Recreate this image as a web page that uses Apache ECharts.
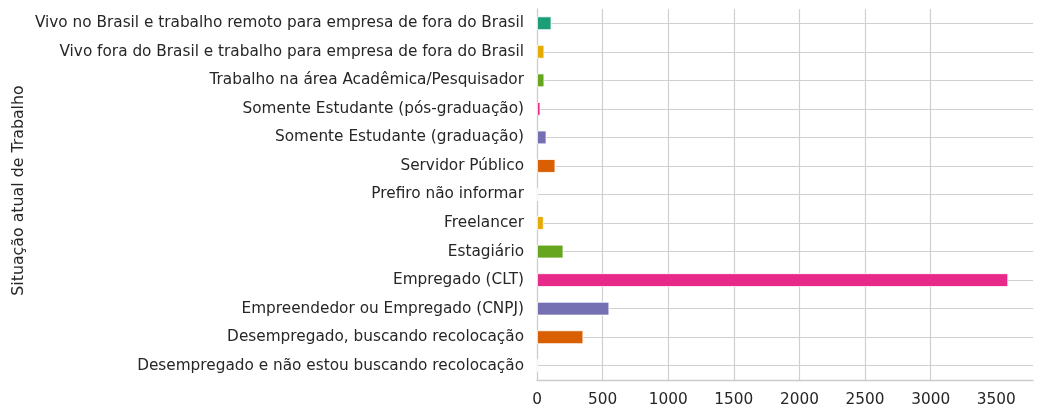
<!DOCTYPE html>
<html>
<head>
<meta charset="utf-8">
<script src="https://cdn.jsdelivr.net/npm/echarts@6/dist/echarts.min.js"></script>
<style>html,body{margin:0;padding:0;background:#fff}#c{width:1043px;height:417px}</style>
</head>
<body>
<div id="c"></div>
<script>
const categories = [
  "Desempregado e não estou buscando recolocação",
  "Desempregado, buscando recolocação",
  "Empreendedor ou Empregado (CNPJ)",
  "Empregado (CLT)",
  "Estagiário",
  "Freelancer",
  "Prefiro não informar",
  "Servidor Público",
  "Somente Estudante (graduação)",
  "Somente Estudante (pós-graduação)",
  "Trabalho na área Acadêmica/Pesquisador",
  "Vivo fora do Brasil e trabalho para empresa de fora do Brasil",
  "Vivo no Brasil e trabalho remoto para empresa de fora do Brasil"
];
const values = [8, 353, 551, 3591, 201, 51, 8, 140, 72, 26, 56, 56, 110];
const palette = ["#1b9e77", "#d95f02", "#7570b3", "#e7298a", "#66a61e", "#e6ab02"];
const xTicks = [0, 500, 1000, 1500, 2000, 2500, 3000, 3500];
const axisTitle = "Situação atual de Trabalho";

const chart = echarts.init(document.getElementById('c'));
const font = "DejaVu Sans";
chart.setOption({
  animation: false,
  textStyle: {fontFamily: font},
  grid: {left: 537, right: 10, top: 9, bottom: 37, containLabel: false},
  xAxis: {
    type: 'value', min: 0, max: 3780,
    axisLine: {show: true, lineStyle: {color: '#cccccc', width: 1.3}},
    axisTick: {show: false, customValues: xTicks},
    axisLabel: {customValues: xTicks, formatter: v => String(v), color: '#262626', fontSize: 15.3, fontFamily: font, margin: 13},
    splitLine: {show: true, showMaxLine: false, showMinLine: false, lineStyle: {color: '#d0d0d0', width: 1.2}}
  },
  yAxis: {
    type: 'category', data: categories,
    name: axisTitle, nameLocation: 'middle', nameGap: 510, nameRotate: 90,
    nameTextStyle: {color: '#262626', fontSize: 15.8, fontFamily: font, padding: [0, 0, 0, 8]},
    axisLine: {show: true, lineStyle: {color: '#cccccc', width: 1.3}},
    axisTick: {show: false, alignWithLabel: true},
    axisLabel: {color: '#262626', fontSize: 15.3, fontFamily: font, margin: 13},
    splitLine: {show: true, alignWithLabel: true, lineStyle: {color: '#d0d0d0', width: 1.2}}
  },
  series: [{
    type: 'bar',
    data: values.map((v, i) => ({value: v, itemStyle: {color: palette[i % palette.length]}})),
    barWidth: '48%',
    itemStyle: {borderColor: '#ffffff', borderWidth: 0.8}
  }]
});
</script>
</body>
</html>
